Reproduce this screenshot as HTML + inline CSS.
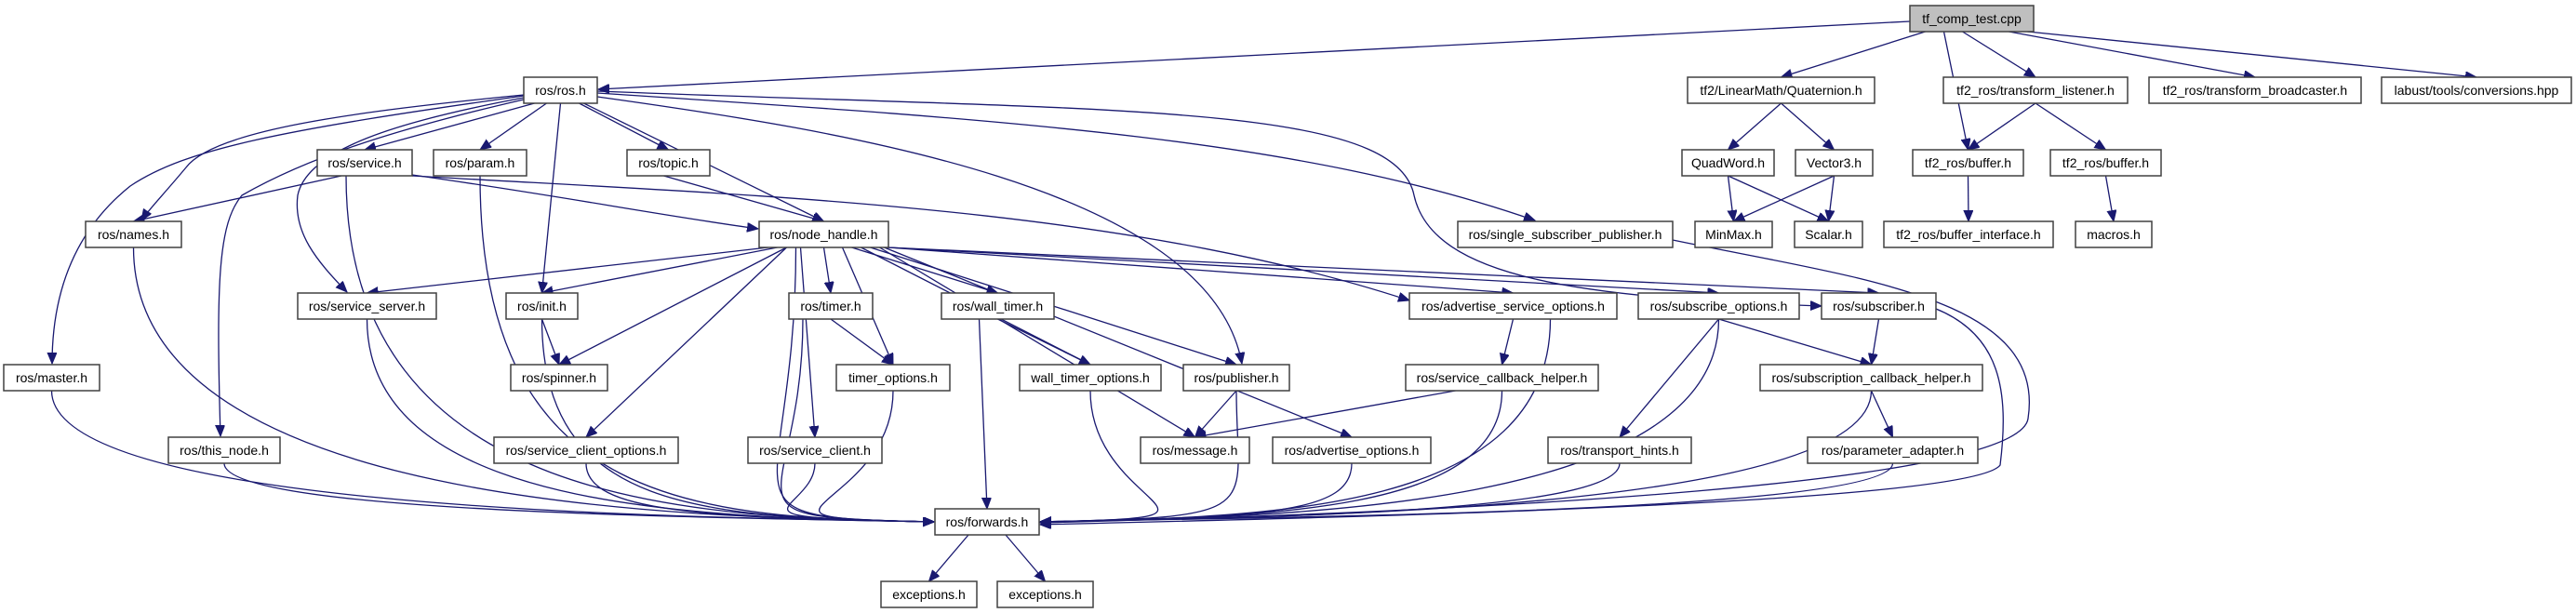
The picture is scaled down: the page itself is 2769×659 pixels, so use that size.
<!DOCTYPE html>
<html><head><meta charset="utf-8"><style>
html,body{margin:0;padding:0;background:#fff;width:2769px;height:659px;overflow:hidden}
svg{display:block}
text{font-family:"Liberation Sans","DejaVu Sans",sans-serif;font-size:14px;fill:#000}
rect{fill:#fff;stroke:#404040;stroke-width:1.5}
</style></head><body>
<svg id="g" width="2769" height="659" viewBox="0 0 2769 659" xmlns="http://www.w3.org/2000/svg">
<defs><marker id="a" markerUnits="userSpaceOnUse" markerWidth="14" markerHeight="12" refX="12" refY="5" orient="auto"><path d="M0,0 L12,5 L0,10 z" fill="#191970" stroke="#191970"/></marker></defs>
<g id="edges" fill="none" stroke="#191970" stroke-width="1.3"></g>
<g id="nodes">
<rect x="2053" y="6" width="133" height="28" style="fill:#bfbfbf"/><text x="2119.5" y="25" text-anchor="middle">tf_comp_test.cpp</text>
<rect x="563" y="83" width="79" height="28"/><text x="602.5" y="102" text-anchor="middle">ros/ros.h</text>
<rect x="1814" y="83" width="201" height="28"/><text x="1914.5" y="102" text-anchor="middle">tf2/LinearMath/Quaternion.h</text>
<rect x="2089" y="83" width="198" height="28"/><text x="2188" y="102" text-anchor="middle">tf2_ros/transform_listener.h</text>
<rect x="2310" y="83" width="228" height="28"/><text x="2424" y="102" text-anchor="middle">tf2_ros/transform_broadcaster.h</text>
<rect x="2560" y="83" width="204" height="28"/><text x="2662" y="102" text-anchor="middle">labust/tools/conversions.hpp</text>
<rect x="341" y="161" width="102" height="28"/><text x="392" y="180" text-anchor="middle">ros/service.h</text>
<rect x="466" y="161" width="100" height="28"/><text x="516" y="180" text-anchor="middle">ros/param.h</text>
<rect x="674" y="161" width="89" height="28"/><text x="718.5" y="180" text-anchor="middle">ros/topic.h</text>
<rect x="1808" y="161" width="99" height="28"/><text x="1857.5" y="180" text-anchor="middle">QuadWord.h</text>
<rect x="1930" y="161" width="83" height="28"/><text x="1971.5" y="180" text-anchor="middle">Vector3.h</text>
<rect x="2056" y="161" width="119" height="28"/><text x="2115.5" y="180" text-anchor="middle">tf2_ros/buffer.h</text>
<rect x="2204" y="161" width="119" height="28"/><text x="2263.5" y="180" text-anchor="middle">tf2_ros/buffer.h</text>
<rect x="92" y="238" width="103" height="28"/><text x="143.5" y="257" text-anchor="middle">ros/names.h</text>
<rect x="816" y="238" width="139" height="28"/><text x="885.5" y="257" text-anchor="middle">ros/node_handle.h</text>
<rect x="1567" y="238" width="231" height="28"/><text x="1682.5" y="257" text-anchor="middle">ros/single_subscriber_publisher.h</text>
<rect x="1822" y="238" width="83" height="28"/><text x="1863.5" y="257" text-anchor="middle">MinMax.h</text>
<rect x="1929" y="238" width="73" height="28"/><text x="1965.5" y="257" text-anchor="middle">Scalar.h</text>
<rect x="2025" y="238" width="182" height="28"/><text x="2116" y="257" text-anchor="middle">tf2_ros/buffer_interface.h</text>
<rect x="2231" y="238" width="82" height="28"/><text x="2272" y="257" text-anchor="middle">macros.h</text>
<rect x="320" y="315" width="149" height="28"/><text x="394.5" y="334" text-anchor="middle">ros/service_server.h</text>
<rect x="544" y="315" width="77" height="28"/><text x="582.5" y="334" text-anchor="middle">ros/init.h</text>
<rect x="848" y="315" width="90" height="28"/><text x="893" y="334" text-anchor="middle">ros/timer.h</text>
<rect x="1012" y="315" width="121" height="28"/><text x="1072.5" y="334" text-anchor="middle">ros/wall_timer.h</text>
<rect x="1515" y="315" width="223" height="28"/><text x="1626.5" y="334" text-anchor="middle">ros/advertise_service_options.h</text>
<rect x="1761" y="315" width="173" height="28"/><text x="1847.5" y="334" text-anchor="middle">ros/subscribe_options.h</text>
<rect x="1958" y="315" width="123" height="28"/><text x="2019.5" y="334" text-anchor="middle">ros/subscriber.h</text>
<rect x="4" y="392" width="103" height="28"/><text x="55.5" y="411" text-anchor="middle">ros/master.h</text>
<rect x="549" y="392" width="104" height="28"/><text x="601" y="411" text-anchor="middle">ros/spinner.h</text>
<rect x="899" y="392" width="122" height="28"/><text x="960" y="411" text-anchor="middle">timer_options.h</text>
<rect x="1096" y="392" width="152" height="28"/><text x="1172" y="411" text-anchor="middle">wall_timer_options.h</text>
<rect x="1272" y="392" width="114" height="28"/><text x="1329" y="411" text-anchor="middle">ros/publisher.h</text>
<rect x="1511" y="392" width="207" height="28"/><text x="1614.5" y="411" text-anchor="middle">ros/service_callback_helper.h</text>
<rect x="1892" y="392" width="239" height="28"/><text x="2011.5" y="411" text-anchor="middle">ros/subscription_callback_helper.h</text>
<rect x="181" y="470" width="120" height="28"/><text x="241" y="489" text-anchor="middle">ros/this_node.h</text>
<rect x="531" y="470" width="198" height="28"/><text x="630" y="489" text-anchor="middle">ros/service_client_options.h</text>
<rect x="804" y="470" width="144" height="28"/><text x="876" y="489" text-anchor="middle">ros/service_client.h</text>
<rect x="1226" y="470" width="117" height="28"/><text x="1284.5" y="489" text-anchor="middle">ros/message.h</text>
<rect x="1368" y="470" width="170" height="28"/><text x="1453" y="489" text-anchor="middle">ros/advertise_options.h</text>
<rect x="1664" y="470" width="154" height="28"/><text x="1741" y="489" text-anchor="middle">ros/transport_hints.h</text>
<rect x="1943" y="470" width="183" height="28"/><text x="2034.5" y="489" text-anchor="middle">ros/parameter_adapter.h</text>
<rect x="1005" y="547" width="112" height="28"/><text x="1061" y="566" text-anchor="middle">ros/forwards.h</text>
<rect x="947" y="625" width="103" height="28"/><text x="998.5" y="644" text-anchor="middle">exceptions.h</text>
<rect x="1072" y="625" width="103" height="28"/><text x="1123.5" y="644" text-anchor="middle">exceptions.h</text>
</g>
</svg>
<script>
var N={
tf:[2053,6,133],ros:[563,83,79],quat:[1814,83,201],tl:[2089,83,198],tb:[2310,83,228],lab:[2560,83,204],
srv:[341,161,102],param:[466,161,100],topic:[674,161,89],qw:[1808,161,99],v3:[1930,161,83],buf1:[2056,161,119],buf2:[2204,161,119],
names:[92,238,103],nh:[816,238,139],ssp:[1567,238,231],mm:[1822,238,83],sc:[1929,238,73],bi:[2025,238,182],mac:[2231,238,82],
ss:[320,315,149],init:[544,315,77],timer:[848,315,90],wt:[1012,315,121],aso:[1515,315,223],so:[1761,315,173],sub:[1958,315,123],
master:[4,392,103],spin:[549,392,104],to:[899,392,122],wto:[1096,392,152],pub:[1272,392,114],sch:[1511,392,207],scbh:[1892,392,239],
tn:[181,470,120],sco:[531,470,198],sc2:[804,470,144],msg:[1226,470,117],ao:[1368,470,170],th:[1664,470,154],pa:[1943,470,183],
fw:[1005,547,112],ex1:[947,625,103],ex2:[1072,625,103]};
var H=28,g=document.getElementById('edges'),ns='http://www.w3.org/2000/svg';
function P(d){var p=document.createElementNS(ns,'path');p.setAttribute('d',d);p.setAttribute('marker-end','url(#a)');g.appendChild(p);}
function L(sx,sy,tx,ty){P('M'+sx+','+sy+' L'+tx+','+ty);}
function E(s,t,ox){var a=N[s],b=N[t];var sx=a[0]+a[2]/2+(ox||0),sy=a[1]+H;
 if(t=='fw'){var fy=561;
  if(sx<990){var tx=1005,ty=fy;P('M'+sx+','+sy+' C'+sx+','+(ty-10)+' '+(tx-250)+','+(ty-5)+' '+(tx-1)+','+ty);return;}
  if(sx>1135){var tx=1117,ty=fy;P('M'+sx+','+sy+' C'+sx+','+(ty-10)+' '+(tx+250)+','+(ty-5)+' '+(tx+1)+','+ty);return;}
 }
 var tx=b[0]+b[2]/2,ty=b[1];L(sx,sy,tx,ty);}
P('M2053,23 L643,96');
/* curved long edges from ros.h */
P('M563,103 C300,140 200,160 140,200 C90,240 56,300 56,391');     // master
P('M563,102 C380,120 230,140 200,180 C175,210 160,225 152,237');   // names
P('M563,105 C430,130 330,160 320,210 C315,250 340,280 373,314');   // service_server
P('M563,107 C420,140 330,170 260,210 C235,240 232,300 237,469');   // this_node
P('M642,104 C900,140 1300,200 1335,391');                          // publisher
P('M642,100 C1100,130 1400,150 1650,237');                         // ssp
P('M642,98 C1200,120 1500,110 1520,210 C1540,300 1700,320 1958,329'); // subscriber
P('M443,188 C600,210 700,230 815,246');  // srv->nh
P('M443,189 C800,210 1200,220 1515,323'); // srv->aso
P('M1798,258 C2000,300 2200,320 2180,450 C2170,520 1600,550 1118,562'); // ssp->fw
P('M2081,332 C2150,360 2160,420 2150,500 C2120,540 1500,555 1118,564'); // sub->fw
[['tf','quat',-50],['tf','buf1',-30],['tf','tl',-10],['tf','tb',40],['tf','lab',60],
['quat','qw'],['quat','v3'],['qw','mm'],['qw','sc'],['v3','mm'],['v3','sc'],['tl','buf1'],['tl','buf2'],['buf1','bi'],['buf2','mac'],
['ros','srv',-28],['ros','param',-15],['ros','topic',20],['ros','nh',25],['ros','init',0],
['srv','names',-25],['srv','fw',-20],['topic','nh',-5],
['nh','ss',-60],['nh','init',-50],['nh','spin',-40],['nh','sco',-40],['nh','fw',-30],['nh','sc2',-25],['nh','timer'],['nh','to',20],['nh','wt',30],['nh','wto',40],['nh','pub',50],['nh','msg',60],['nh','ao',65],['nh','aso',69],['nh','so',69],['nh','sub',69],
['timer','to'],['timer','fw',-30],['wt','wto'],['wt','fw',-20],['pub','msg'],['pub','fw'],['init','spin'],['init','fw'],
['aso','sch'],['aso','fw',40],['sch','msg',-50],['sch','fw'],['so','th'],['so','fw'],['so','scbh'],['sub','scbh'],['scbh','pa'],['scbh','fw'],['pa','fw'],['th','fw'],['ao','fw'],['sc2','fw'],['sco','fw'],['tn','fw'],['master','fw'],['names','fw'],['ss','fw'],['param','fw'],['to','fw'],['wto','fw']
].forEach(function(e){E(e[0],e[1],e[2]);});
E('fw','ex1',-20);E('fw','ex2',20);
</script>
</body></html>
